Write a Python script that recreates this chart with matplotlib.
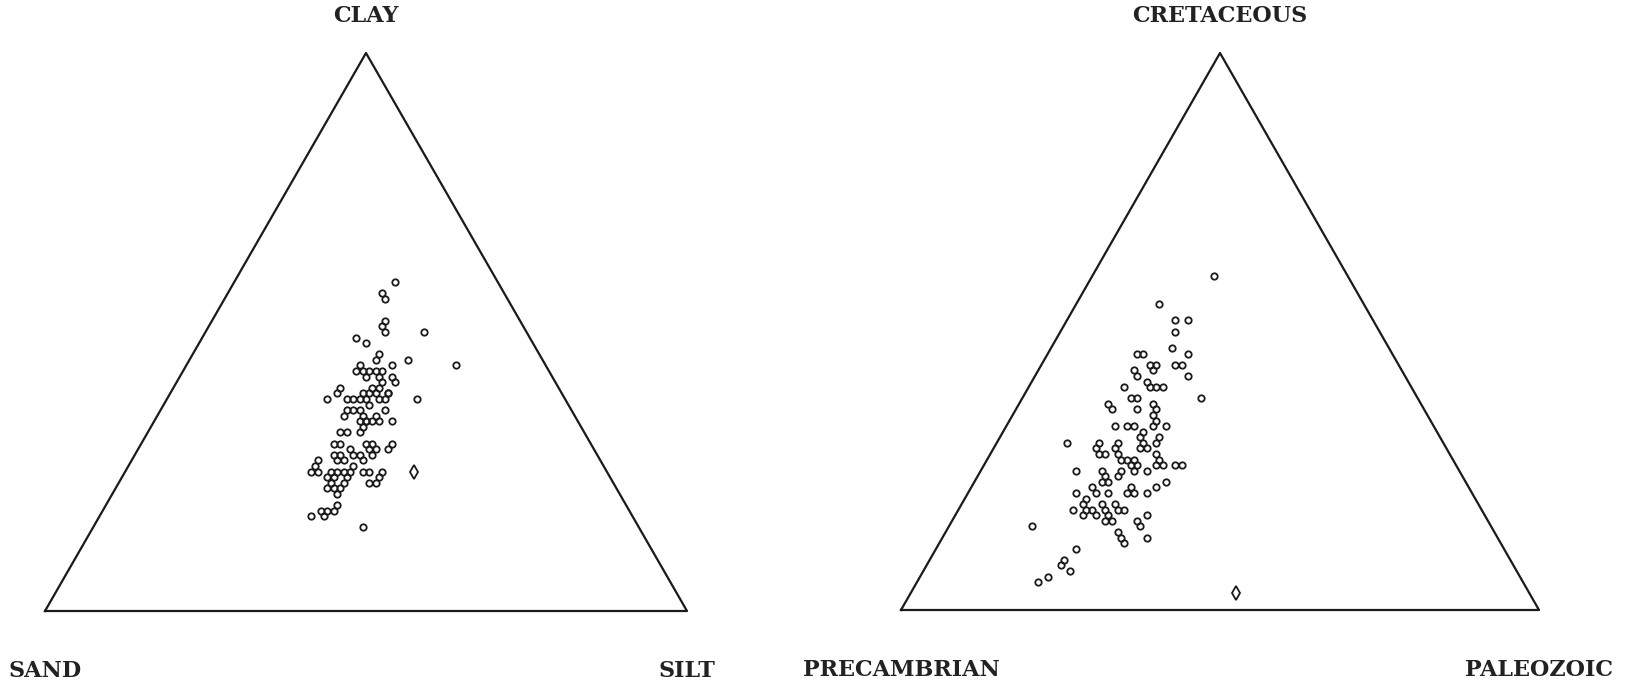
import numpy as np
import matplotlib.pyplot as plt

# Left diagram: sand / silt / clay (percent), sand = 100 - clay - silt
soil_clay = [59, 57, 56, 52, 51, 50, 50, 49, 48, 46, 45, 44, 45, 44, 43, 43, 43, 43, 43, 44,
             42, 42, 42, 41, 41, 40, 40, 40, 39, 39, 39, 38, 38, 38, 39, 38, 38, 39, 38, 38,
             39, 38, 37,
             36, 36, 36, 35, 35, 34, 34, 35, 36, 34, 34, 34, 34, 33, 32, 32, 32, 30, 30, 30,
             30, 29, 29, 30, 29, 28, 28, 28, 29, 28, 28, 27, 27, 27, 27, 26, 25, 25, 25, 25,
             25, 26, 25, 25, 25, 25, 24, 24, 24, 23, 23, 24, 23, 23, 22, 22, 22, 21, 19, 18,
             18, 18, 17, 17, 15]
soil_silt = [25, 24, 25, 27, 27, 28, 34, 24, 26, 29, 34, 42, 29, 27, 27, 28, 29, 30, 31, 32,
             29, 31, 33, 34, 32, 26, 31, 32, 31, 34, 26, 28, 25, 29, 30, 30, 31, 32, 33, 34,
             34, 39, 32,
             29, 30, 31, 29, 32, 33, 33, 34, 35, 34, 35, 37, 32, 33, 30, 31, 33, 30, 31, 35,
             36, 37, 36, 39, 39, 37, 31, 32, 33, 34, 35, 32, 33, 36, 29, 29, 30, 29, 32, 33,
             34, 35, 35, 37, 38, 40, 32, 33, 35, 39, 40, 40, 33, 35, 33, 34, 35, 35, 36, 34,
             35, 36, 33, 35, 42]
soil_odd = (25, 45)  # clay, silt of the diamond sample

# Right diagram: precambrian / paleozoic / cretaceous (percent)
cret = [60, 55, 52, 52, 50, 47, 46, 46, 46, 44, 44, 44, 44, 43, 43, 42, 42,
        40, 41, 40, 40, 40, 38, 37, 36, 38, 38, 36, 37, 36, 35, 34, 33, 33, 33, 33, 33,
        32, 30, 30, 29, 30, 29, 31, 30, 31, 29, 29, 30, 28, 28, 28, 27, 27, 28, 27, 26,
        26, 26, 26, 27, 26, 26, 25, 25, 25, 25, 25, 24, 24, 23, 23, 23, 22, 22, 22, 21,
        20, 21, 21, 21, 21, 21,
        18, 19, 17, 18, 18, 17, 19, 18, 16, 16, 17, 19, 18, 18, 16, 15, 17, 13, 14, 13,
        12, 15, 11, 9, 8, 7, 6, 5]
paleo = [19, 13, 17, 19, 18, 19, 14, 15, 22, 21, 22, 17, 18, 18, 15, 16, 24,
         15, 18, 19, 20, 21, 28, 14, 15, 17, 18, 19, 21, 22, 22, 23, 23, 25, 17, 19, 20,
         22, 11, 16, 16, 19, 19, 22, 23, 25, 23, 24, 25, 17, 18, 20, 22, 21, 26, 27, 28,
         27, 30, 31, 23, 24, 23, 22, 24, 26, 15, 19, 22, 20, 20, 21, 30, 19, 25, 29, 17,
         19, 20, 22, 25, 26, 28,
         18, 19, 20, 20, 21, 22, 22, 23, 24, 25, 24, 24, 25, 26, 29, 30, 30, 32, 27, 28,
         29, 13, 22, 21, 21, 23, 20, 19]
age_odd = (3, 51)  # cretaceous, paleozoic of the diamond sample

H = np.sqrt(3) / 2


def to_xy(top, right):
    top = np.asarray(top) / 100.0
    right = np.asarray(right) / 100.0
    return right + top / 2, top * H


def draw_triangle(ax, top, right, odd, labels):
    ax.plot([0, 1, 0.5, 0], [0, 0, H, 0], color='#1a1a1a', lw=1.6, clip_on=False)
    x, y = to_xy(top, right)
    ax.plot(x, y, 'o', ms=4.6, mfc='none', mec='#1a1a1a', mew=1.3, clip_on=False)
    ox, oy = to_xy([odd[0]], [odd[1]])
    ax.plot(ox, oy, 'd', ms=7.5, mfc='none', mec='#1a1a1a', mew=1.3, clip_on=False)
    font = dict(family='DejaVu Serif', weight='bold', fontsize=16, color='#222222',
                ha='center', va='center')
    ax.annotate(labels[0], xy=(0.5, H), xytext=(0, 37), textcoords='offset pixels', **font)
    ax.annotate(labels[1], xy=(0, 0), xytext=(0, -60), textcoords='offset pixels', **font)
    ax.annotate(labels[2], xy=(1, 0), xytext=(0, -60), textcoords='offset pixels', **font)
    ax.set_xlim(0, 1)
    ax.set_ylim(0, H)
    ax.axis('off')


fig = plt.figure(figsize=(16.26, 6.82), dpi=100)
ax1 = fig.add_axes([45 / 1626, 71 / 682, 642 / 1626, 558 / 682])
ax2 = fig.add_axes([901 / 1626, 72 / 682, 638 / 1626, 557 / 682])

draw_triangle(ax1, soil_clay, soil_silt, soil_odd, ['CLAY', 'SAND', 'SILT'])
draw_triangle(ax2, cret, paleo, age_odd, ['CRETACEOUS', 'PRECAMBRIAN', 'PALEOZOIC'])

fig.savefig('out.png', dpi=100, facecolor='white')
